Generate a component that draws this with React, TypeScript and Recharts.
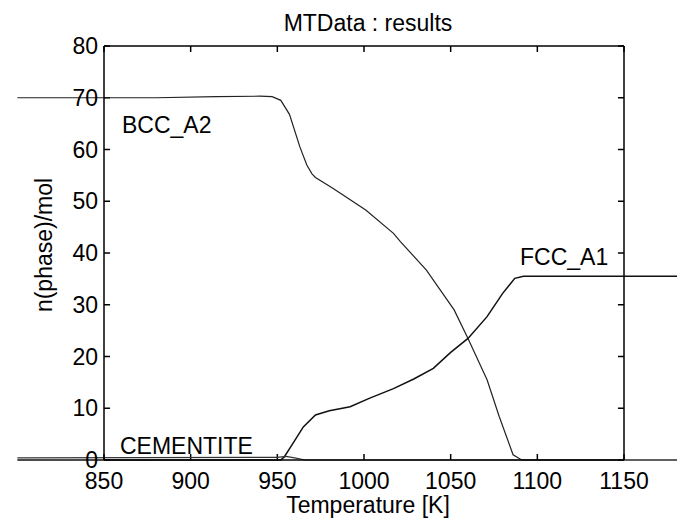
import React from 'react';
import { LineChart, Line, XAxis, YAxis, ReferenceDot, ReferenceLine } from 'recharts';

// phase amounts vs temperature (MTData equilibrium run)
const bccTemp = [800, 880, 915, 940, 947, 952, 957, 963, 967, 970, 972, 982, 1001, 1017, 1021, 1036, 1052, 1060, 1071, 1078, 1086, 1091, 1200];
const bccMol = [70.0, 70.0, 70.2, 70.3, 70.2, 69.5, 66.8, 60.5, 57.0, 55.3, 54.6, 52.5, 48.3, 43.8, 42.2, 36.7, 29.0, 23.5, 15.5, 8.4, 1.0, 0, 0];

const fccTemp = [800, 952, 954, 959, 965, 972, 980, 992, 1003, 1017, 1029, 1040, 1050, 1060, 1071, 1080, 1087, 1092, 1200];
const fccMol = [0, 0, 0.6, 3.2, 6.4, 8.7, 9.5, 10.3, 11.9, 13.8, 15.7, 17.7, 20.8, 23.5, 27.7, 32.2, 35.1, 35.5, 35.5];

const cemTemp = [800, 950, 955, 960, 966, 1200];
const cemMol = [0.4, 0.5, 0.7, 0.4, 0, 0];

const xTicks = [850, 900, 950, 1000, 1050, 1100, 1150];
const yTicks = [0, 10, 20, 30, 40, 50, 60, 70, 80];

const phaseNames = ['BCC_A2', 'FCC_A1', 'CEMENTITE'];
const nameTemp = [860.4, 1090, 859.2];
const nameMol = [63.2, 37.7, 1.16];

const X_MIN = 850;
const X_MAX = 1150;
const Y_MIN = 0;
const Y_MAX = 80;
// inward tick marks, about 6px long in each direction
const X_TICK_LEN = 1.16; // in mol
const Y_TICK_LEN = 3.5; // in K

const FONT = '"Liberation Sans", Arial, Helvetica, sans-serif';

const toPoints = (temps: number[], mols: number[]) => temps.map((t, i) => ({ t, n: mols[i] }));

const bcc = toPoints(bccTemp, bccMol);
const fcc = toPoints(fccTemp, fccMol);
const cem = toPoints(cemTemp, cemMol);

const axisLine = { stroke: '#000', strokeWidth: 1.5 };
const tickText = { fill: '#000', fontSize: 23, fontFamily: FONT };

const Title = (props: any) => {
  const { x, y, width, height } = props.viewBox;
  return (
    <text x={x + width / 2 + 4} y={y + height / 2 + 8} textAnchor="middle" fill="#000" fontSize={23} fontFamily={FONT}>
      MTData : results
    </text>
  );
};

const XTitle = (props: any) => {
  const { x, y, width } = props.viewBox;
  return (
    <text x={x + width / 2 + 4} y={y + 53} textAnchor="middle" fill="#000" fontSize={23} fontFamily={FONT}>
      Temperature [K]
    </text>
  );
};

const YTitle = () => (
  <text x={44} y={245} transform="rotate(-90 44 245)" dy="0.355em" textAnchor="middle" fill="#000" fontSize={23} fontFamily={FONT}>
    n(phase)/mol
  </text>
);

const tickSegments = [
  ...xTicks.map((t) => [{ x: t, y: Y_MIN }, { x: t, y: Y_MIN + X_TICK_LEN }]),
  ...xTicks.map((t) => [{ x: t, y: Y_MAX }, { x: t, y: Y_MAX - X_TICK_LEN }]),
  ...yTicks.map((v) => [{ x: X_MIN, y: v }, { x: X_MIN + Y_TICK_LEN, y: v }]),
  ...yTicks.map((v) => [{ x: X_MAX, y: v }, { x: X_MAX - Y_TICK_LEN, y: v }]),
];

const App = () => {
  return (
    <div style={{ position: 'absolute', left: 0, top: 0, width: 677, height: 520, background: '#fff' }}>
      <style>{`.recharts-line, .recharts-line * { clip-path: none !important; }`}</style>
      <LineChart width={677} height={520} margin={{ top: 0, right: 0, bottom: 0, left: 0 }}>
        <XAxis
          dataKey="t"
          type="number"
          domain={[X_MIN, X_MAX]}
          allowDataOverflow
          ticks={xTicks}
          interval={0}
          height={60}
          axisLine={axisLine}
          tickLine={false}
          tickSize={0}
          tickMargin={13}
          tick={tickText}
          label={{ content: XTitle }}
        />
        <XAxis
          xAxisId="top"
          orientation="top"
          type="number"
          domain={[X_MIN, X_MAX]}
          allowDataOverflow
          ticks={xTicks}
          interval={0}
          height={46}
          axisLine={axisLine}
          tickLine={false}
          tick={false}
          label={{ content: Title }}
        />
        <YAxis
          type="number"
          domain={[Y_MIN, Y_MAX]}
          ticks={yTicks}
          interval={0}
          width={104}
          axisLine={axisLine}
          tickLine={false}
          tickSize={0}
          tickMargin={6}
          tick={tickText}
          label={{ content: YTitle }}
        />
        <YAxis
          yAxisId="right"
          orientation="right"
          type="number"
          domain={[Y_MIN, Y_MAX]}
          ticks={yTicks}
          interval={0}
          width={53}
          axisLine={axisLine}
          tickLine={false}
          tick={false}
        />
        {tickSegments.map((seg, i) => (
          <ReferenceLine key={i} segment={seg} stroke="#000" strokeWidth={1.5} />
        ))}
        <Line data={bcc} dataKey="n" type="linear" stroke="#222" strokeWidth={1.2} dot={false} isAnimationActive={false} />
        <Line data={fcc} dataKey="n" type="linear" stroke="#111" strokeWidth={1.5} dot={false} isAnimationActive={false} />
        <Line data={cem} dataKey="n" type="linear" stroke="#333" strokeWidth={1.2} dot={false} isAnimationActive={false} />
        {phaseNames.map((name, i) => (
          <ReferenceDot
            key={name}
            x={nameTemp[i]}
            y={nameMol[i]}
            r={0}
            shape={(p: any) => (
              <text x={p.cx} y={p.cy} fill="#000" fontSize={23} fontFamily={FONT}>
                {name}
              </text>
            )}
          />
        ))}
      </LineChart>
    </div>
  );
};

export default App;
